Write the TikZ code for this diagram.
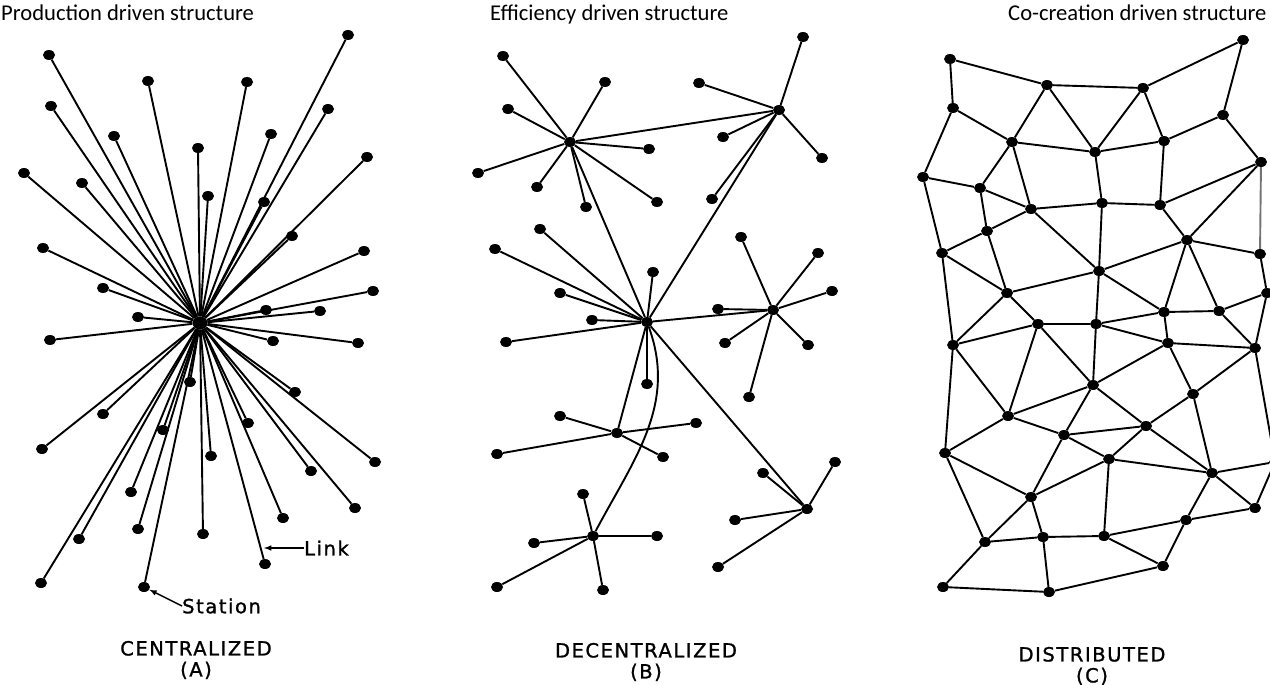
\documentclass[tikz,border=0pt]{standalone}
\usepackage{fontspec}
\setmainfont{Carlito}
\newfontfamily\lettering[LetterSpace=8,FakeBold=1.2]{DejaVu Sans}
\usetikzlibrary{arrows,shapes.geometric}

\begin{document}
\begin{tikzpicture}[x=1pt,y=-1pt,
	station/.style={ellipse,fill=black,inner sep=0pt,minimum width=12pt,minimum height=10pt},
	hub/.style={station,minimum width=15pt,minimum height=13pt},
	link/.style={line width=1.9pt},
	heading/.style={anchor=base west,inner sep=0pt,font=\fontsize{22.6}{26}\selectfont},
	caption/.style={align=center,inner sep=0pt,font=\lettering\fontsize{19.5}{21}\selectfont}]
	\useasboundingbox (0,0) rectangle (1270,685);

	\node[heading] (titleA) at (1,21) {Production driven structure};
	\node[heading] (titleB) at (490,21) {Efficiency driven structure};
	\node[heading] (titleC) at (1008,21) {Co-creation driven structure};

	% centralized
	\node[hub] (ca) at (200,323) {};
	\foreach \x/\y [count=\i] in {49/55, 348/35, 148/81, 247/82, 51/106, 328/109, 114/136, 271/134,
		198/148, 367/157, 24/173, 82/183, 208/196, 264/202, 292/236, 43/248, 364/251, 103/288,
		373/291, 138/317, 266/310, 320/311, 50/340, 273/341, 358/343, 295/392, 103/414, 42/449,
		163/430, 190/382, 248/423, 211/456, 375/462, 311/471, 131/492, 355/508, 283/518, 138/529,
		203/534, 79/539, 265/564, 41/583, 144/587}
	{
		\node[station] (a\i) at (\x,\y) {};
		\draw[link] (ca) -- (a\i);
	}
	\coordinate (linkpt) at (264,548);
	\node[caption,anchor=west] (linklbl) at (304,548) {Link};
	\draw[-latex, line width=1.5pt] (linklbl.west) -- (linkpt);
	\node[caption,anchor=west] (stationlbl) at (182,606) {Station};
	\draw[-latex, line width=1.5pt] (stationlbl.west) -- (a43);
	\node[caption] (capA) at (196,660) {CENTRALIZED\\(A)};

	% decentralized
	\node[station] (bh1) at (570,142) {};
	\node[station] (bh2) at (779,110) {};
	\node[station] (bh3) at (647,322) {};
	\node[station] (bh4) at (773,310) {};
	\node[station] (bh5) at (617,433) {};
	\node[station] (bh6) at (593,536) {};
	\node[station] (bh7) at (807,509) {};
	\draw[link] (bh1) -- (bh2);
	\draw[link] (bh1) -- (bh3);
	\draw[link] (bh2) -- (bh3);
	\draw[link] (bh3) -- (bh4);
	\draw[link] (bh3) -- (bh5);
	\draw[link] (bh3) -- (bh7);
	\draw[link] (bh3) to [out=-70,in=62] (bh6);
	\foreach \h/\x/\y [count=\i] in {1/503/56, 1/605/82, 1/508/109, 1/649/149, 1/478/173, 1/537/187,
		1/586/207, 1/657/202, 2/803/37, 2/699/83, 2/723/137, 2/822/158, 2/712/199,
		3/540/229, 3/495/249, 3/653/272, 3/560/293, 3/592/320, 3/506/342, 3/647/384,
		4/741/237, 4/818/253, 4/832/291, 4/718/309, 4/725/343, 4/808/345, 4/749/397,
		5/560/416, 5/696/423, 5/497/454, 5/663/457,
		6/583/494, 6/534/543, 6/657/536, 6/497/587, 6/603/590,
		7/763/473, 7/835/462, 7/735/520, 7/718/567}
	{
		\node[station] (b\i) at (\x,\y) {};
		\draw[link] (bh\h) -- (b\i);
	}
	\node[caption] (capB) at (646,662) {DECENTRALIZED\\(B)};

	% distributed
	\foreach \x/\y [count=\i] in {950/59, 1243/40, 1047/85, 1143/88, 953/108, 1223/115, 1012/142,
		1095/152, 1164/141, 1261/162, 923/177, 980/188, 1031/209, 1102/203, 1160/205, 987/231,
		1187/240, 942/253, 1260/254, 1099/271, 1007/293, 1267/293, 1164/312, 1219/311, 1038/324,
		1096/324, 953/345, 1168/343, 1255/348, 1093/385, 1193/394, 1008/416, 1146/426, 1064/435,
		945/453, 1109/459, 1212/473, 1255/508, 1031/497, 1186/520, 985/542, 1043/537, 1104/536,
		1163/566, 943/587, 1049/592, 1275/462}
		\node[station] (c\i) at (\x,\y) {};
	\foreach \p/\q in {1/3, 1/5, 3/4, 4/2, 2/6, 3/7, 3/8, 4/8, 4/9, 5/7, 5/11, 7/8, 8/9, 9/6, 6/10,
		7/12, 7/13, 8/14, 9/15, 10/15, 10/17, 11/12, 11/18, 12/13, 12/16, 13/14, 13/16, 13/20,
		14/15, 14/20, 15/17, 16/18, 16/21, 17/20, 17/19, 17/23, 17/24, 18/21, 18/27, 20/21, 20/26,
		20/23, 21/25, 21/27, 19/22, 22/24, 23/24, 22/29, 24/29, 27/25, 25/26, 26/23, 23/28, 26/28,
		28/29, 27/32, 27/35, 25/32, 25/30, 26/30, 28/30, 28/31, 29/31, 29/47, 30/32, 30/34, 30/33,
		31/33, 31/37, 32/34, 32/35, 34/33, 34/36, 34/39, 33/36, 33/37, 36/37, 36/39, 36/43, 35/39,
		35/41, 37/47, 37/38, 37/40, 38/47, 39/41, 39/42, 41/42, 42/43, 43/40, 40/38, 43/44, 40/44,
		41/45, 42/46, 45/46, 46/44}
		\draw[link] (c\p) -- (c\q);
	\draw[link, black!55] (c10) -- (c19);
	\node[caption] (capC) at (1092,666) {DISTRIBUTED\\(C)};
\end{tikzpicture}
\end{document}
